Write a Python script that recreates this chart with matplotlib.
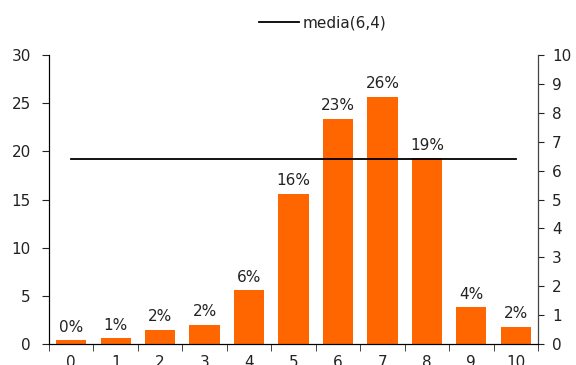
#!/usr/bin/env python3
"""Distribution of scores (0-10) with the mean line on a secondary axis."""

import matplotlib

matplotlib.use("Agg")
import matplotlib.pyplot as plt
import numpy as np

scores = list(range(11))
shares = [0.4, 0.6, 1.5, 2.0, 5.6, 15.6, 23.4, 25.7, 19.3, 3.8, 1.8]
mean_score = 6.4
mean_label = "media(6,4)"

BAR_COLOR = "#FF6600"
TEXT_COLOR = "#222222"

plt.rcParams["font.family"] = ["DejaVu Sans"]
plt.rcParams["font.size"] = 11
plt.rcParams["text.color"] = TEXT_COLOR
plt.rcParams["xtick.color"] = TEXT_COLOR
plt.rcParams["ytick.color"] = TEXT_COLOR

fig = plt.figure(figsize=(5.76, 3.65), dpi=100)
ax = fig.add_axes([0.085, 0.0575, 0.849, 0.7915])

x = np.arange(len(scores))
bars = ax.bar(x, shares, width=0.68, color=BAR_COLOR, zorder=2)
for rect, value in zip(bars, shares):
    ax.annotate(f"{value:.0f}%", (rect.get_x() + rect.get_width() / 2, value),
                xytext=(0, 4), textcoords="offset points",
                ha="center", va="bottom", color=TEXT_COLOR)

ax.set_xlim(-0.5, len(scores) - 0.5)
ax.set_ylim(0, 30)
ax.set_yticks(range(0, 31, 5))
ax.set_xticks(x)
ax.set_xticklabels([str(s) for s in scores])
ax.set_xticks(np.arange(-0.5, len(scores), 1.0), minor=True)
ax.tick_params(axis="x", which="major", length=0, pad=8)
ax.tick_params(axis="x", which="minor", length=5, direction="out")
ax.tick_params(axis="y", length=5, direction="out", pad=8)
ax.spines["top"].set_visible(False)

ax2 = ax.twinx()
ax2.set_ylim(0, 10)
ax2.set_yticks(range(0, 11))
ax2.tick_params(axis="y", length=4, direction="out", pad=6)
ax2.spines["top"].set_visible(False)
ax2.spines["right"].set_color("#444444")
line, = ax2.plot([x[0], x[-1]], [mean_score, mean_score], color="black",
                 linewidth=1.3, label=mean_label)

fig.legend(handles=[line], loc="upper center", bbox_to_anchor=(0.56, 0.995),
           frameon=False, handlelength=2.6, handletextpad=0.25)

fig.savefig("out.png", dpi=100)
